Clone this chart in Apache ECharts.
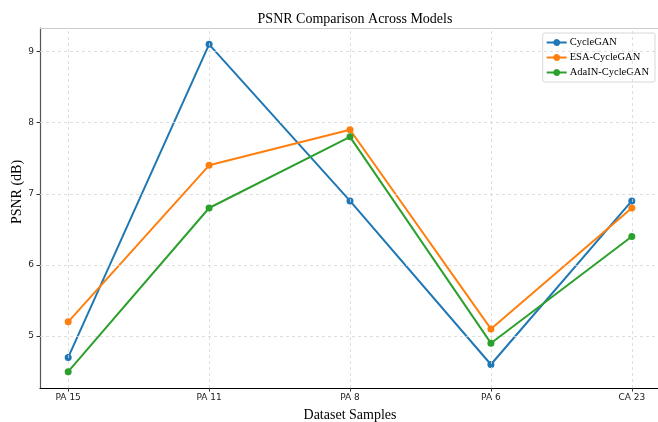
<!DOCTYPE html>
<html>
<head>
<meta charset="utf-8">
<script src="https://cdn.jsdelivr.net/npm/echarts@6/dist/echarts.min.js"></script>
<style>html,body{margin:0;padding:0;background:#fff}#c{width:658px;height:422px}</style>
</head>
<body>
<div id="c"></div>
<script>
var categories = ['PA 15', 'PA 11', 'PA 8', 'PA 6', 'CA 23'];
var cycleGAN = [4.7, 9.1, 6.9, 4.6, 6.9];
var esaCycleGAN = [5.2, 7.4, 7.9, 5.1, 6.8];
var adainCycleGAN = [4.5, 6.8, 7.8, 4.9, 6.4];
var seriesNames = ['CycleGAN', 'ESA-CycleGAN', 'AdaIN-CycleGAN'];
var yTicks = [5, 6, 7, 8, 9];

var colors = ['#1f77b4', '#ff7f0e', '#2ca02c'];
function pts(arr) { return arr.map(function (v, i) { return [i, v]; }); }
var serif = '"Liberation Serif", "DejaVu Serif", serif';
var sans = '"DejaVu Sans", sans-serif';
var xIdx = categories.map(function (c, i) { return i; });
var legendIcon = 'path://M0,2.5L6.646,2.5A3.5,3.5,0,0,1,13.354,2.5L20,2.5L20,4.5L13.354,4.5A3.5,3.5,0,0,1,6.646,4.5L0,4.5Z';

var chart = echarts.init(document.getElementById('c'));
var lineSeries = [];
var dotSeries = [];
[cycleGAN, esaCycleGAN, adainCycleGAN].forEach(function (arr, k) {
  lineSeries.push({
    name: seriesNames[k], type: 'line', data: pts(arr),
    symbol: 'none', z: 2 + k * 2,
    lineStyle: { width: 2, color: colors[k] },
    itemStyle: { color: colors[k] },
    emphasis: { disabled: true },
    animation: false
  });
  dotSeries.push({
    type: 'scatter', data: pts(arr), symbol: 'circle', symbolSize: 7, z: 3 + k * 2,
    itemStyle: { color: colors[k], opacity: 1, borderWidth: 0 },
    emphasis: { disabled: true }, silent: true, animation: false
  });
});
chart.setOption({
  animation: false,
  title: {
    text: 'PSNR Comparison Across Models', left: 350, textAlign: 'center', top: 7,
    textStyle: { fontFamily: serif, fontSize: 14, fontWeight: 'normal', color: '#000' }
  },
  legend: {
    data: seriesNames.map(function (n, k) {
      return { name: n, icon: legendIcon, itemStyle: { color: colors[k], borderWidth: 0 } };
    }),
    orient: 'vertical', right: 3, top: 33,
    itemWidth: 20, itemHeight: 7, itemGap: 4,
    padding: [4, 6, 4, 4],
    backgroundColor: '#fff', borderColor: '#d8d8d8', borderWidth: 1, borderRadius: 2,
    textStyle: { fontFamily: serif, fontSize: 10.5, lineHeight: 10, color: '#000', padding: [0, 0, 0, -2] }
  },
  grid: { left: 40, top: 28, width: 620, height: 360, outerBoundsMode: 'none', containLabel: false },
  xAxis: {
    type: 'value', min: -0.2, max: 4.2, interval: 1,
    name: 'Dataset Samples', nameLocation: 'middle', nameGap: 20,
    nameTextStyle: { fontFamily: serif, fontSize: 14, color: '#000' },
    axisLine: { show: true, onZero: false, lineStyle: { color: '#000', width: 1.2 } },
    axisTick: { show: true, length: 3.5, lineStyle: { color: '#333' }, customValues: xIdx },
    axisLabel: {
      fontFamily: sans, fontSize: 9, color: '#222', margin: 5,
      customValues: xIdx,
      formatter: function (v) { return categories[Math.round(v)] || ''; }
    },
    splitLine: { show: false }
  },
  yAxis: {
    type: 'value', min: 4.27, max: 9.33,
    name: 'PSNR (dB)', nameLocation: 'middle', nameGap: 16, nameMoveOverlap: false,
    nameTextStyle: { fontFamily: serif, fontSize: 14, color: '#000', padding: [0, 0, 0, 32] },
    axisLine: { show: true, onZero: false, lineStyle: { color: '#555', width: 1.2 } },
    axisTick: { show: true, length: 3.5, lineStyle: { color: '#333' }, customValues: yTicks },
    axisLabel: { fontFamily: sans, fontSize: 9, color: '#222', margin: 6, customValues: yTicks },
    splitLine: { show: false }
  },
  series: lineSeries.concat(dotSeries).concat([
    {
      type: 'line', data: [], silent: true, z: 1,
      markLine: {
        silent: true, symbol: 'none', animation: false,
        label: { show: false },
        lineStyle: { type: [3, 3], color: '#d6d6d6', width: 0.8 },
        emphasis: { disabled: true },
        data: yTicks.map(function (t) { return { yAxis: t }; })
          .concat(xIdx.map(function (i) { return { xAxis: i }; }))
      }
    },
    {
      type: 'line', data: [], silent: true, z: 1,
      markLine: {
        silent: true, symbol: 'none', animation: false, label: { show: false },
        lineStyle: { type: 'solid', color: '#cccccc', width: 1.2 },
        emphasis: { disabled: true },
        data: [{ yAxis: 9.33 }]
      }
    }
  ])
});
</script>
</body>
</html>
